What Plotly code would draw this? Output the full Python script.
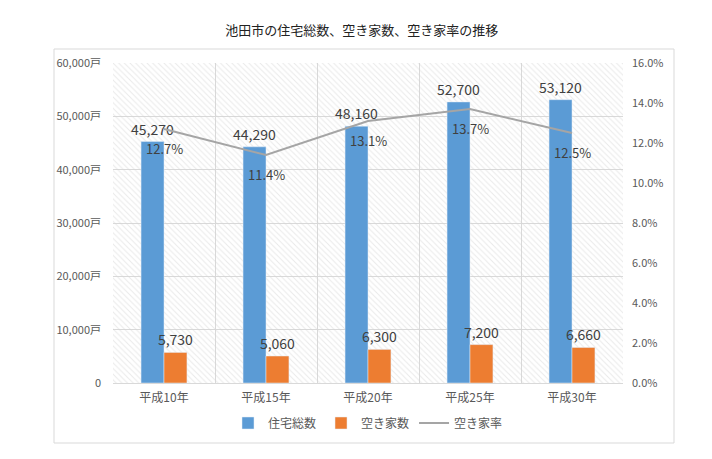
import plotly.graph_objects as go

categories = ["平成10年", "平成15年", "平成20年", "平成25年", "平成30年"]
total_houses = [45270, 44290, 48160, 52700, 53120]
vacant_houses = [5730, 5060, 6300, 7200, 6660]
vacancy_rate = [12.7, 11.4, 13.1, 13.7, 12.5]

left_ticks = [0, 10000, 20000, 30000, 40000, 50000, 60000]
left_ticktext = ["0", "10,000戸", "20,000戸", "30,000戸", "40,000戸", "50,000戸", "60,000戸"]
right_ticks = [0, 2, 4, 6, 8, 10, 12, 14, 16]
right_ticktext = ["0.0%", "2.0%", "4.0%", "6.0%", "8.0%", "10.0%", "12.0%", "14.0%", "16.0%"]

FONT = "Noto Sans CJK JP"
GRID = "#d9d9d9"
TICK = "#595959"
LABEL = "#404040"

fig = go.Figure()

# hatched plot-area background (decoration)
fig.add_trace(go.Bar(
    x=[0.5], y=[1], width=[1], xaxis="x", yaxis="y",
    marker=dict(color="rgba(0,0,0,0)", line=dict(width=0),
                pattern=dict(shape="\\", size=4, solidity=0.25,
                             fgcolor="#d4d4d4", bgcolor="rgba(0,0,0,0)")),
    showlegend=False, hoverinfo="skip",
))

fig.add_trace(go.Bar(
    name="住宅総数", x=categories, y=total_houses, xaxis="x2", yaxis="y2",
    marker=dict(color="#5b9bd5"),
    texttemplate="%{y:,}", textposition="outside", constraintext="none",
    textfont=dict(size=14, color=LABEL, family=FONT), cliponaxis=False,
))
fig.add_trace(go.Bar(
    name="空き家数", x=categories, y=vacant_houses, xaxis="x2", yaxis="y2",
    marker=dict(color="#ed7d31"),
    texttemplate="%{y:,}", textposition="outside", constraintext="none",
    textfont=dict(size=14, color=LABEL, family=FONT), cliponaxis=False,
))
fig.add_trace(go.Scatter(
    name="空き家率", x=categories, y=vacancy_rate, xaxis="x2", yaxis="y3",
    mode="lines", line=dict(color="#a5a5a5", width=2),
))

for c, v in zip(categories, vacancy_rate):
    fig.add_annotation(x=c, y=v, xref="x2", yref="y3", text=f"{v:.1f}%",
                       showarrow=False, yshift=-19,
                       font=dict(size=13, color=LABEL, family=FONT))

fig.update_layout(
    width=712, height=459,
    margin=dict(l=113, r=89, t=63, b=76),
    paper_bgcolor="white", plot_bgcolor="white",
    font=dict(family=FONT, color=TICK, size=11),
    barmode="group", bargap=0.55, bargroupgap=0,
    title=dict(text="池田市の住宅総数、空き家数、空き家率の推移",
               x=0.508, xanchor="center", y=1 - 30 / 459, yanchor="middle",
               font=dict(size=13, color="#222222", family=FONT)),
    xaxis=dict(range=[0, 1], visible=False, fixedrange=True),
    yaxis=dict(range=[0, 1], visible=False, fixedrange=True),
    xaxis2=dict(overlaying="x", anchor="y2", type="category", tickson="boundaries",
                showgrid=True, gridcolor=GRID, gridwidth=1, ticks="",
                showline=True, linecolor=GRID, ticklabelstandoff=4,
                tickfont=dict(size=12, color=TICK)),
    yaxis2=dict(overlaying="y", side="left", range=[0, 60000],
                tickvals=left_ticks, ticktext=left_ticktext,
                showgrid=True, gridcolor=GRID, zeroline=False,
                ticklabelstandoff=11,
                tickfont=dict(size=11, color=TICK), ticks=""),
    yaxis3=dict(overlaying="y", side="right", anchor="x2", range=[0, 16],
                tickvals=right_ticks, ticktext=right_ticktext,
                showgrid=False, zeroline=False, ticklabelstandoff=8,
                tickfont=dict(size=11, color=TICK), ticks=""),
    legend=dict(orientation="h", x=0.5, xanchor="center", y=-0.125, yanchor="middle",
                font=dict(size=12, color=TICK), traceorder="normal"),
    shapes=[dict(type="rect", xref="paper", yref="paper",
                 x0=(54 - 113) / 510, x1=(674 - 113) / 510,
                 y0=(383 - 443) / 320, y1=(383 - 49) / 320,
                 line=dict(color="#d9d9d9", width=1), layer="below")],
)

fig.write_html("out.html", config={"displayModeBar": False},
               post_script="document.body.style.margin='0';document.body.style.overflow='hidden';")
